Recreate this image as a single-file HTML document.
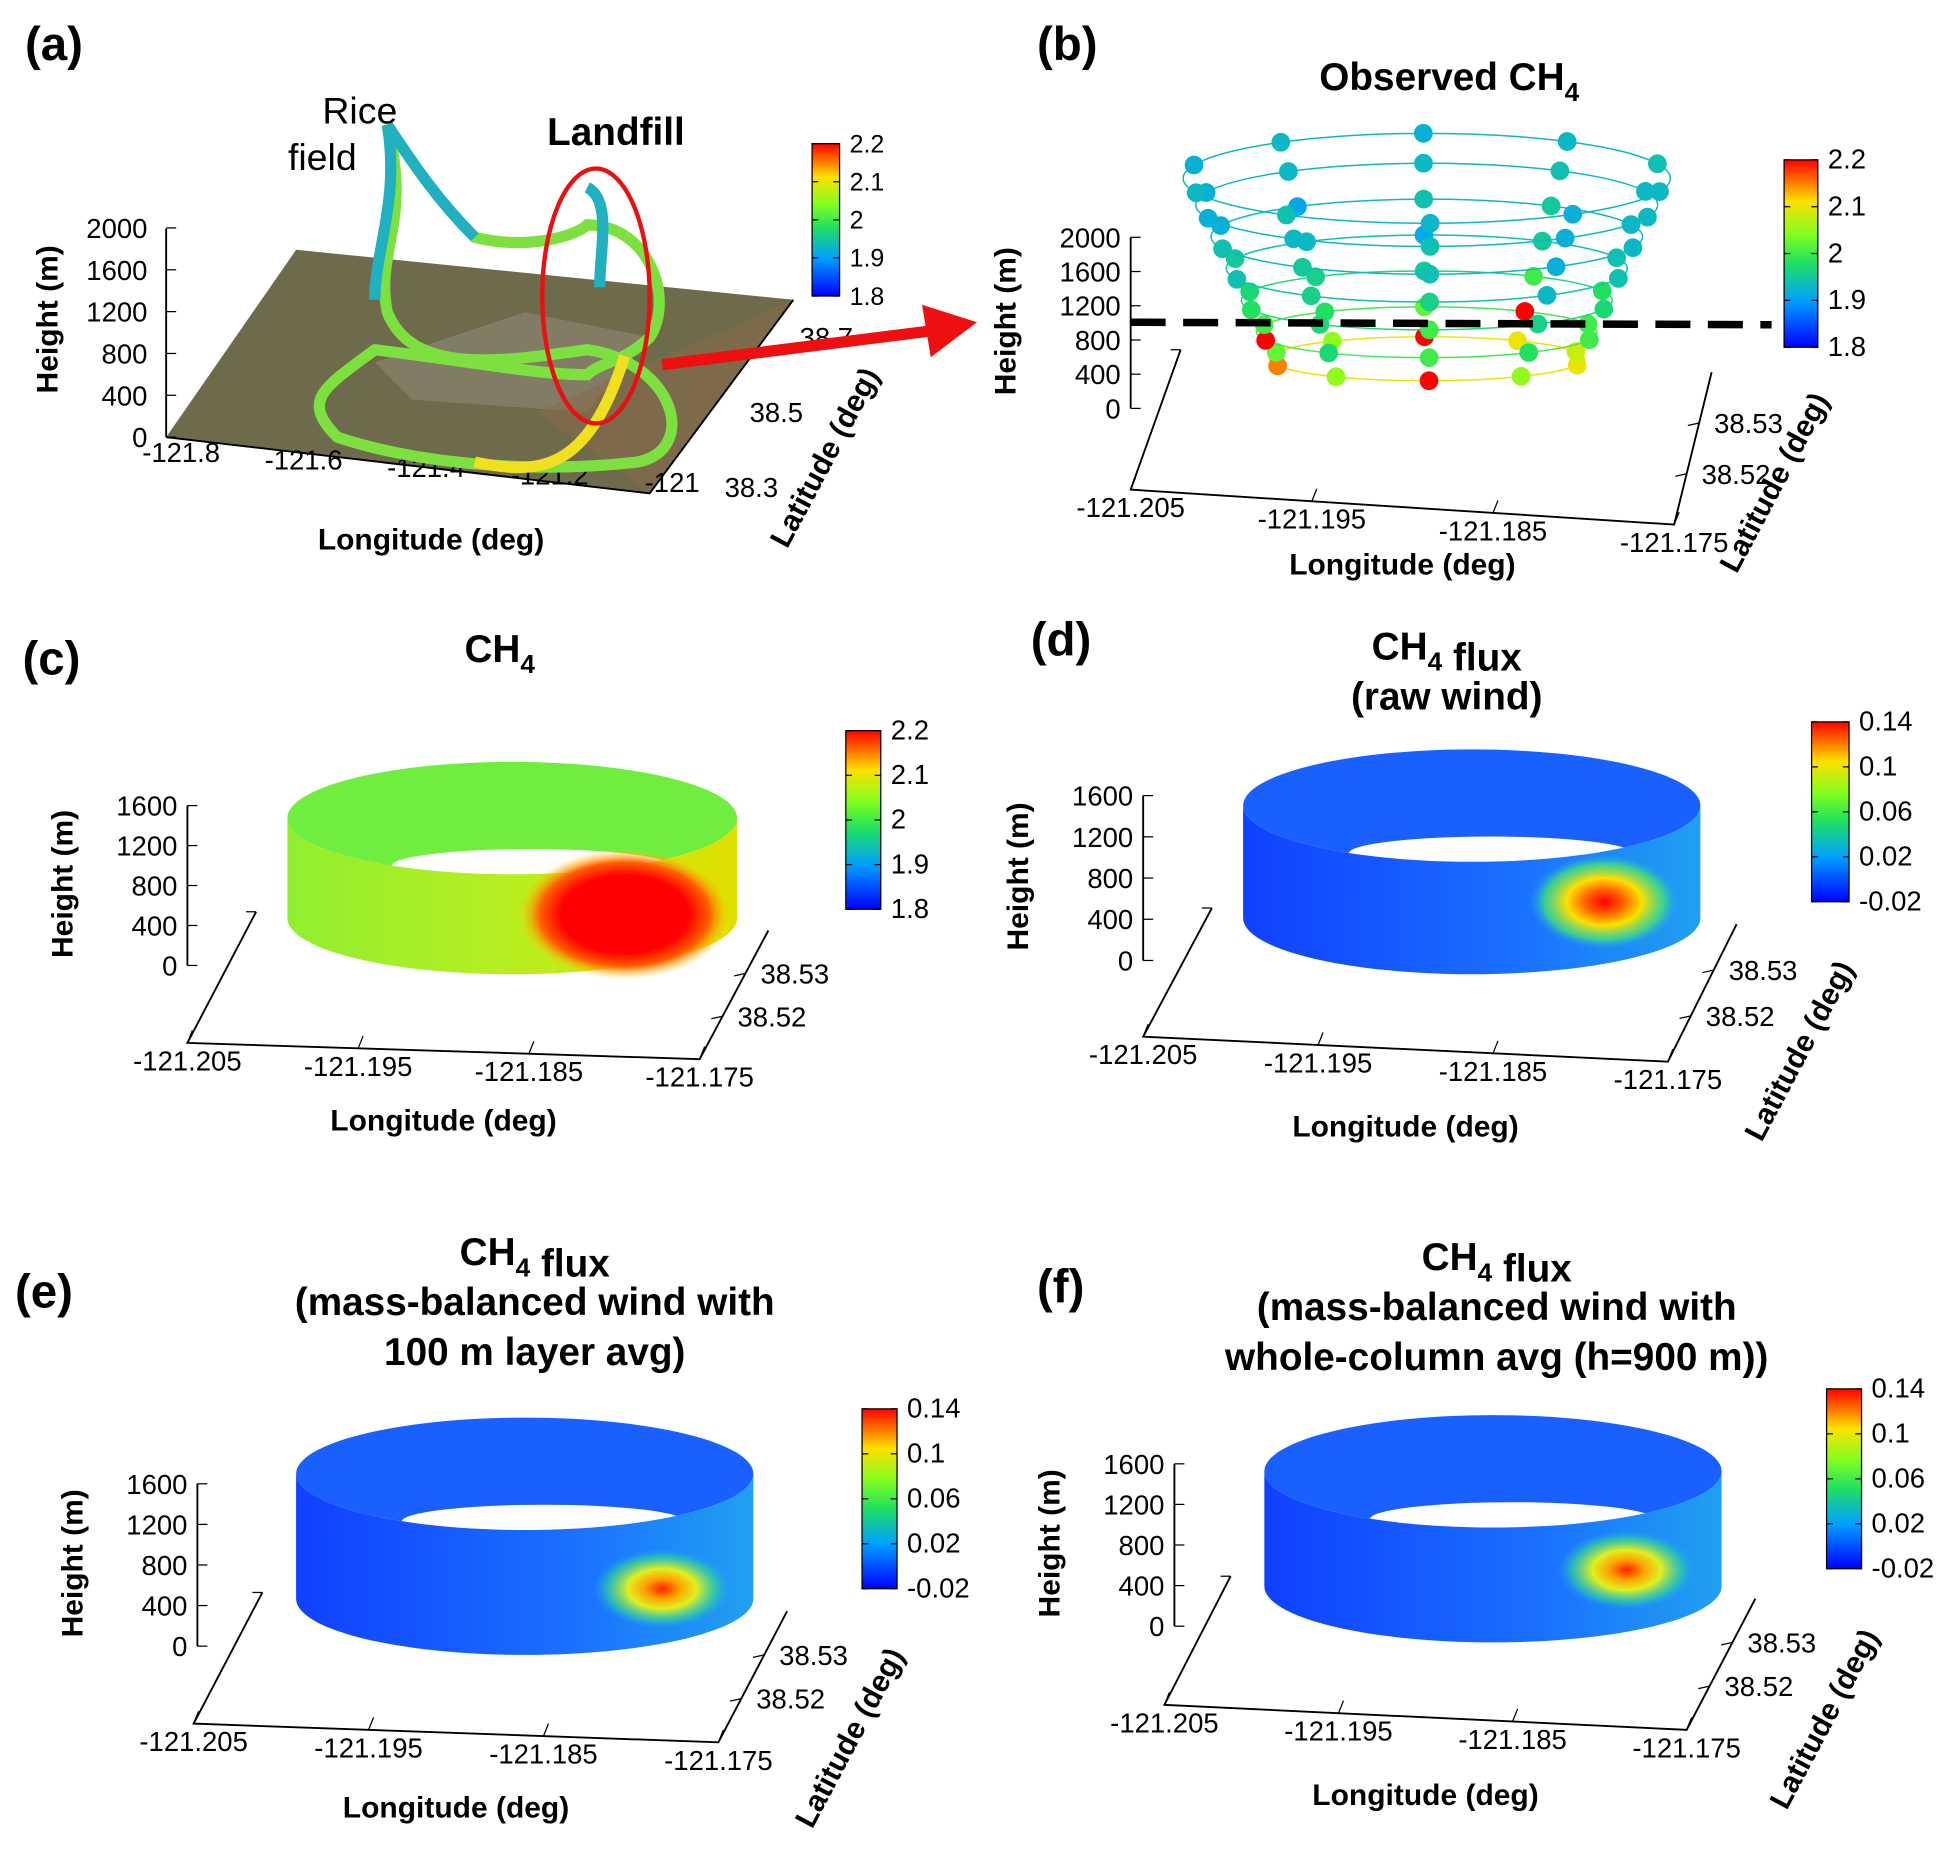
<!DOCTYPE html>
<html><head><meta charset="utf-8"><style>
body{margin:0;background:#fff}
svg{display:block;font-family:"Liberation Sans",sans-serif}
text{fill:#000}
</style></head><body>
<svg id="fig" width="1959" height="1856" viewBox="0 0 1568 1486" preserveAspectRatio="none" xmlns="http://www.w3.org/2000/svg">
<defs>
<linearGradient id="jet" x1="0" y1="1" x2="0" y2="0">
<stop offset="0" stop-color="#0000ff"/><stop offset="0.25" stop-color="#00a0ff"/><stop offset="0.45" stop-color="#20e060"/><stop offset="0.6" stop-color="#80ff20"/><stop offset="0.78" stop-color="#ffe000"/><stop offset="1" stop-color="#ff0000"/></linearGradient>
<linearGradient id="blueBody" x1="0" y1="0" x2="1" y2="0"><stop offset="0" stop-color="#1040ff"/><stop offset="0.6" stop-color="#1a70ff"/><stop offset="1" stop-color="#20a0f0"/></linearGradient>
<linearGradient id="greenBody" x1="0" y1="0" x2="1" y2="0"><stop offset="0" stop-color="#90ee30"/><stop offset="0.5" stop-color="#b8ee20"/><stop offset="1" stop-color="#e0e000"/></linearGradient>
<radialGradient id="hot1"><stop offset="0" stop-color="#ff0000"/><stop offset="0.25" stop-color="#ff6000"/><stop offset="0.5" stop-color="#ffe000"/><stop offset="0.8" stop-color="#40e080" stop-opacity="0.8"/><stop offset="1" stop-color="#20a0ff" stop-opacity="0"/></radialGradient>
<radialGradient id="hot2"><stop offset="0" stop-color="#ff2000"/><stop offset="0.25" stop-color="#ffa000"/><stop offset="0.5" stop-color="#e0f020"/><stop offset="0.8" stop-color="#30d0a0" stop-opacity="0.7"/><stop offset="1" stop-color="#20a0ff" stop-opacity="0"/></radialGradient>
<radialGradient id="hotCH4"><stop offset="0" stop-color="#ff0000"/><stop offset="0.6" stop-color="#ff0000"/><stop offset="0.8" stop-color="#ff6000"/><stop offset="1" stop-color="#ffd000" stop-opacity="0"/></radialGradient>
</defs>
<g id="root"></g>
</svg>
<script>
const NS="http://www.w3.org/2000/svg";
const root=document.getElementById('root');
function mk(tag,a,p){const e=document.createElementNS(NS,tag);for(const k in a)e.setAttribute(k,a[k]);(p||root).appendChild(e);return e;}
function tx(s,x,y,size,opt,p){opt=opt||{};const e=mk('text',{x:x,y:y,'font-size':size,'text-anchor':opt.anchor||'start','font-weight':opt.bold?'bold':'normal',fill:opt.fill||'#000'},p);if(opt.rot)e.setAttribute('transform','rotate('+opt.rot+' '+x+' '+y+')');e.textContent=s;return e;}

// ---- data ----
const heightTicks=[0,400,800,1200,1600];
const heightTicksB=[0,400,800,1200,1600,2000];
const lonTicks=["-121.205","-121.195","-121.185","-121.175"];
const latTicks=["38.52","38.53"];
const ch4CbTicks=["2.2","2.1","2","1.9","1.8"];
const fluxCbTicks=["0.14","0.1","0.06","0.02","-0.02"];
const ringHeights=[150,400,700,1000,1300,1600,1850];
const ringValues=[[2.1,2.05,2.2,2.05,2.15,2.02,2.05,2.2,2.1,2.08],[2.0,1.98,2.0,1.97,2.2,2.0,1.98,2.02,2.2,2.0],[1.97,1.96,2.0,1.97,1.98,1.97,1.96,1.95,2.0,1.98],[1.94,1.93,1.96,1.96,1.94,1.95,1.93,1.91,1.95,1.94],[1.93,1.92,1.94,1.95,1.94,1.92,1.91,1.94,1.95,1.93],[1.93,1.92,1.94,1.93,1.92,1.92,1.93,1.93,1.94,1.93],[1.93,1.92,1.93,1.94,1.93,1.92,1.93,1.92,1.93,1.94]];

function jet(v,lo,hi){let t=Math.max(0,Math.min(1,(v-lo)/(hi-lo)));const st=[[0,[0,0,255]],[0.25,[0,160,255]],[0.45,[32,224,96]],[0.6,[128,255,32]],[0.78,[255,224,0]],[1,[255,0,0]]];for(let i=1;i<st.length;i++){if(t<=st[i][0]){const a=st[i-1],b=st[i];const f=(t-a[0])/(b[0]-a[0]);return 'rgb('+a[1].map((c,j)=>Math.round(c+(b[1][j]-c)*f)).join(',')+')';}}return 'red';}

function colorbar(x,y,w,h,labels,size){const g=mk('g',{});
const r=mk('rect',{x:x,y:y,width:w,height:h,fill:'url(#jet)',stroke:'#000','stroke-width':1},g);
labels.forEach((l,i)=>{const yy=y+h*i/(labels.length-1);mk('line',{x1:x,x2:x+5,y1:yy,y2:yy,stroke:'#000'},g);mk('line',{x1:x+w-5,x2:x+w,y1:yy,y2:yy,stroke:'#000'},g);const t=tx(l,x+w+8,yy+7,size||21,{},g);});}

function box3d(P,hTicks,h0y,h1y,ax,lonY,latLabel,lonSize){
const g=mk('g',{});
mk('polyline',{points:[P.bl,P.fl,P.fr,P.br].map(p=>p.join(',')).join(' '),fill:'none',stroke:'#000','stroke-width':1.5},g);
mk('line',{x1:ax,x2:ax,y1:h1y,y2:h0y,stroke:'#000','stroke-width':1.5},g);
const max=hTicks[hTicks.length-1];
hTicks.forEach(v=>{const yy=h0y+(h1y-h0y)*v/max;mk('line',{x1:ax,x2:ax+8,y1:yy,y2:yy,stroke:'#000'},g);const t=tx(String(v),ax-8,yy+8,22,{anchor:'end'},g);});
lonTicks.forEach((l,i)=>{const f=i/(lonTicks.length-1);const x=P.fl[0]+(P.fr[0]-P.fl[0])*f,y=P.fl[1]+(P.fr[1]-P.fl[1])*f;mk('line',{x1:x,y1:y,x2:x+4,y2:y-10,stroke:'#000'},g);const t=tx(l,x,y+22,lonSize||22,{anchor:'middle'},g);});
latTicks.forEach((l,i)=>{const f=(i+1)/3;const x=P.fr[0]+(P.br[0]-P.fr[0])*f,y=P.fr[1]+(P.br[1]-P.fr[1])*f;mk('line',{x1:x,y1:y,x2:x-9,y2:y+2,stroke:'#000'},g);const t=tx(l,x+12,y+8,22,{},g);});
mk('line',{x1:P.bl[0],y1:P.bl[1],x2:P.bl[0]-8,y2:P.bl[1],stroke:'#000'},g);
const mx=(P.fl[0]+P.fr[0])/2;const t1=tx('Longitude (deg)',mx,lonY,24,{bold:true,anchor:'middle'},g);
const t2=tx('Height (m)',ax-92,(h0y+h1y)/2+58,24,{bold:true,rot:-90},g);
if(latLabel){const t3=tx('Latitude (deg)',latLabel[0],latLabel[1],24,{bold:true,rot:-62},g);}
}

function cylinder(cx,top,bot,rx,ry,body,hot,name){
const g=mk('g',{});
const backc=body==='url(#greenBody)'?'#70ee40':'#1a60ff';
mk('ellipse',{cx:cx,cy:top,rx:rx,ry:ry,fill:backc},g);
mk('ellipse',{cx:cx+15,cy:top+ry*0.85,rx:rx*0.62,ry:ry*0.3,fill:'#fff'},g);
mk('path',{d:`M${cx-rx},${top} A${rx},${ry} 0 0 0 ${cx+rx},${top} L${cx+rx},${bot} A${rx},${ry} 0 0 1 ${cx-rx},${bot} Z`,fill:body},g);
if(hot)mk('ellipse',{cx:hot[0],cy:hot[1],rx:hot[2],ry:hot[3],fill:hot[4]},g);
}

function label(s,x,y){const t=tx(s,x,y,38,{bold:true});}
function title(lines,x,y,step){lines.forEach((l,i)=>{const t=mk('text',{x:x,y:y+i*step,'font-size':31,'font-weight':'bold','text-anchor':'middle'});t.innerHTML=l;});}
const CH4='CH<tspan font-size="21" dy="9">4</tspan><tspan dy="-9"></tspan>';

// ---- panel a ----
label('(a)',20,48);
{const g=mk('g',{});
mk('polygon',{points:'133,350 237,200 635,240 520,395',fill:'#6e6a4c'},g);
mk('polygon',{points:'300,290 420,250 520,270 470,330 330,320',fill:'#8a8470',opacity:0.7},g);
mk('polygon',{points:'430,330 635,240 520,395',fill:'#8a6a4a',opacity:0.5},g);
mk('polyline',{points:'133,350 520,395 635,240',fill:'none',stroke:'#000','stroke-width':1.5},g);
mk('line',{x1:133,x2:133,y1:183,y2:350,stroke:'#000','stroke-width':1.5},g);
[0,400,800,1200,1600,2000].forEach((v,i)=>{const y=350-i*33.5;mk('line',{x1:133,x2:141,y1:y,y2:y,stroke:'#000'},g);tx(String(v),118,y+8,22,{anchor:'end'},g);});
[["-121.8",145],["-121.6",243],["-121.4",341],["-121.2",440],["-121",538]].forEach((l,i)=>tx(l[0],l[1],370+i*6,22,{anchor:'middle'},g));
tx('38.3',580,398,22,{},g);tx('38.5',600,338,22,{},g);tx('38.7',640,278,22,{},g);
tx('Longitude (deg)',345,440,24,{bold:true,anchor:'middle'},g);
tx('Height (m)',46,315,24,{bold:true,rot:-90},g);
tx('Latitude (deg)',630,440,24,{bold:true,rot:-62},g);
}
{const trk=mk('path',{d:'M300,280 C260,310 240,320 270,350 C330,370 420,380 510,370 C560,360 540,290 470,280 C400,290 330,300 310,250 C300,200 330,180 310,100 C330,130 350,160 380,190 C420,200 460,190 470,180 C520,180 540,240 520,270 C500,290 480,290 470,300 C430,300 380,290 300,280',fill:'none',stroke:'#7ee040','stroke-width':9,'stroke-linecap':'round'});
const trk2=mk('path',{d:'M310,100 C330,130 350,160 380,190 M300,240 C300,200 320,160 310,100 M470,150 C490,160 480,200 480,230',fill:'none',stroke:'#20b0c0','stroke-width':9});
const trk3=mk('path',{d:'M380,370 C430,380 470,380 500,285',fill:'none',stroke:'#f0e020','stroke-width':9});}
tx('Rice',258,99,30);
tx('field',258,136,30,{anchor:'middle'});
{const t=tx('Landfill',493,116,31,{bold:true,fill:'#ff1010',anchor:'middle'});}
{const e=mk('ellipse',{cx:477,cy:237,rx:43,ry:102,fill:'none',stroke:'#e81010','stroke-width':3.5});}
{const a=mk('line',{x1:530,y1:292,x2:745,y2:265,stroke:'#ee1010','stroke-width':9});
const h=mk('polygon',{points:'782,258 738,244 745,286',fill:'#ee1010'});}
colorbar(650,115,22,122,ch4CbTicks,20);

// ---- panel b ----
label('(b)',830,48);
title(['Observed '+CH4],1160,72,40);
box3d({fl:[905,392],fr:[1340,420],br:[1370,298],bl:[945,280]},heightTicksB,327,190,905,460,[1390,460],22);
{const cx=1142;
const yOf=h=>300-h*0.085;
ringHeights.forEach((hh,ri)=>{const yc=yOf(hh);const vals=ringValues[ri];const f=hh/1850;const rxx=120+75*f,ryy=16+20*f;
const g=mk('g',{});
mk('ellipse',{cx:cx,cy:yc,rx:rxx,ry:ryy,fill:'none',stroke:jet(vals[0],1.8,2.2),'stroke-width':1.2},g);
vals.forEach((v,k)=>{const a=2*Math.PI*k/vals.length+0.3;const c=mk('circle',{cx:cx+rxx*Math.cos(a),cy:yc+ryy*Math.sin(a),r:7.5,fill:jet(v,1.8,2.2)},g);});});}
{const d=mk('line',{x1:905,x2:1418,y1:258,y2:260,stroke:'#000','stroke-width':6,'stroke-dasharray':'28,14'});}
colorbar(1428,128,27,150,ch4CbTicks,22);

// ---- panel c ----
label('(c)',18,540);
title([CH4],400,530,40);
box3d({fl:[150,835],fr:[560,848],br:[615,745],bl:[205,730]},heightTicks,773,645,150,905,null,22);
cylinder(410,655,735,180,45,'url(#greenBody)',[500,732,85,52,'url(#hotCH4)'],'ch4-cylinder');
colorbar(677,585,28,143,ch4CbTicks,22);

// ---- panel d ----
label('(d)',825,525);
title([CH4+' flux','(raw wind)'],1158,528,40);
box3d({fl:[915,830],fr:[1335,850],br:[1390,740],bl:[970,727]},heightTicks,769,637,915,910,[1410,915],22);
cylinder(1178,645,735,183,45,'url(#blueBody)',[1284,722,60,38,'url(#hot1)'],'flux-raw-cylinder');
colorbar(1450,578,30,144,fluxCbTicks,22);

// ---- panel e ----
label('(e)',12,1047);
title([CH4+' flux','(mass-balanced wind with','100 m layer avg)'],428,1013,40);
box3d({fl:[155,1380],fr:[575,1395],br:[630,1290],bl:[210,1275]},heightTicks,1318,1188,158,1455,[650,1465],22);
cylinder(420,1180,1280,183,45,'url(#blueBody)',[530,1272,55,32,'url(#hot2)'],'flux-100m-cylinder');
colorbar(690,1128,28,144,fluxCbTicks,22);

// ---- panel f ----
label('(f)',830,1043);
title([CH4+' flux','(mass-balanced wind with','whole-column avg (h=900 m))'],1198,1017,40);
box3d({fl:[932,1365],fr:[1350,1385],br:[1405,1280],bl:[985,1262]},heightTicks,1302,1172,940,1445,[1430,1450],22);
cylinder(1195,1178,1270,183,45,'url(#blueBody)',[1302,1257,55,32,'url(#hot2)'],'flux-column-cylinder');
colorbar(1462,1112,28,144,fluxCbTicks,22);
</script>
</body></html>
